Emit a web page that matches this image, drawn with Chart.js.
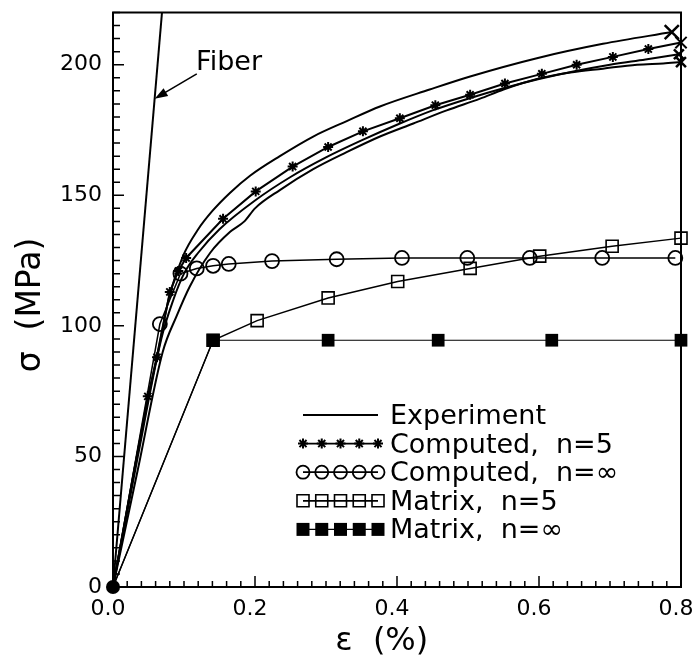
<!DOCTYPE html>
<html>
<head>
<meta charset="utf-8">
<script src="https://cdn.jsdelivr.net/npm/chart.js@4.4.1/dist/chart.umd.min.js"></script>
<style>
	html, body { margin: 0; background: #fff; }
</style>
</head>
<body>
<canvas id="chart" width="695" height="665"></canvas>
<script>
const X_TICKS = [0, 0.2, 0.4, 0.6, 0.8]
const Y_TICKS = [0, 50, 100, 150, 200]
const X_MAX = 0.8
const Y_MAX = 220
const X_MINOR = 0.02
const Y_MINOR = 5

const fiber_x = [0, 0.069]
const fiber_y = [0, 220]

// three experimental specimens
const exp_a_x = [0, 0.03, 0.063, 0.08, 0.099, 0.12, 0.14, 0.165, 0.193, 0.235, 0.282, 0.33, 0.376, 0.446, 0.503, 0.597, 0.69, 0.787]
const exp_a_y = [0, 45, 90, 112, 127, 137, 144, 151, 157.5, 165, 172.5, 178.5, 184, 190.5, 195.5, 202.5, 208, 212.5]
const exp_b_x = [0, 0.035, 0.068, 0.085, 0.1, 0.12, 0.15, 0.2, 0.25, 0.3, 0.35, 0.4, 0.45, 0.5, 0.55, 0.6, 0.65, 0.7, 0.75, 0.797]
const exp_b_y = [0, 50, 95, 110, 120, 128, 137, 148, 157, 164.5, 171, 177, 182.5, 187, 191, 194.5, 197.5, 200, 202, 204]
const exp_c_x = [0, 0.035, 0.07, 0.09, 0.108, 0.137, 0.165, 0.185, 0.2, 0.235, 0.282, 0.329, 0.376, 0.423, 0.47, 0.517, 0.55, 0.597, 0.644, 0.69, 0.738, 0.775, 0.8]
const exp_c_y = [0, 45, 90, 104, 115, 128, 136, 140, 145, 152, 160, 166.5, 172.5, 177.5, 182.5, 187, 190.5, 194.5, 197, 198.5, 200, 200.5, 201]

const comp5_x = [0, 0.049, 0.062, 0.08, 0.092, 0.103, 0.155, 0.201, 0.253, 0.303, 0.352, 0.404, 0.454, 0.503, 0.552, 0.604, 0.653, 0.704, 0.754, 0.8]
const comp5_y = [0, 73, 88, 113, 121, 126, 141, 151.5, 161, 168.5, 174.5, 179.5, 184.5, 188.5, 192.8, 196.5, 200, 203, 206, 208.5]

const comp_inf_x = [0, 0.066, 0.095, 0.118, 0.141, 0.163, 0.224, 0.315, 0.407, 0.499, 0.587, 0.689, 0.792]
const comp_inf_y = [0, 100.7, 120, 122, 123, 123.7, 124.8, 125.5, 126, 126, 126, 126, 126]

const mat5_x = [0, 0.141, 0.203, 0.303, 0.401, 0.503, 0.601, 0.703, 0.8]
const mat5_y = [0, 94.5, 102, 110.7, 117, 122, 126.7, 130.5, 133.6]

const mat_inf_x = [0, 0.141, 0.303, 0.458, 0.618, 0.8]
const mat_inf_y = [0, 94.5, 94.5, 94.5, 94.5, 94.5]

const LEGEND = [
	{ text: 'Experiment', marker: null },
	{ text: 'Computed,  n=5', marker: 'star' },
	{ text: 'Computed,  n=\u221e', marker: 'circle' },
	{ text: 'Matrix,  n=5', marker: 'rect' },
	{ text: 'Matrix,  n=\u221e', marker: 'rect_filled' },
]

const FONT = "'DejaVu Sans', sans-serif"

function points (xs, ys) {
	return xs.map((x, i) => ({ x, y: ys[i] }))
}

function end_cross (n, size) {
	return {
		pointStyle: c => c.dataIndex === n - 1 ? 'crossRot' : false,
		pointRadius: c => c.dataIndex === n - 1 ? size : 0,
		pointBorderWidth: 2.5,
	}
}

function experiment (xs, ys, size) {
	return Object.assign({
		data: points(xs, ys),
		borderColor: '#000',
		borderWidth: 2,
		cubicInterpolationMode: 'monotone',
		pointBorderColor: '#000',
	}, end_cross(xs.length, size))
}

function draw_marker (ctx, kind, x, y) {
	ctx.beginPath()
	if (kind === 'star') {
		const r = 5
		for (let k = 0; k < 4; k++) {
			const a = k * Math.PI / 4
			ctx.moveTo(x - r * Math.cos(a), y - r * Math.sin(a))
			ctx.lineTo(x + r * Math.cos(a), y + r * Math.sin(a))
		}
		ctx.lineWidth = 2
		ctx.stroke()
	} else if (kind === 'circle') {
		ctx.arc(x, y, 6.5, 0, Math.PI * 2)
		ctx.lineWidth = 1.8
		ctx.stroke()
	} else if (kind === 'rect') {
		ctx.rect(x - 6, y - 6, 12, 12)
		ctx.lineWidth = 1.6
		ctx.stroke()
	} else if (kind === 'rect_filled') {
		ctx.rect(x - 6.5, y - 6.5, 13, 13)
		ctx.fill()
	}
}

const frame_plugin = {
	id: 'frame',
	afterDatasetsDraw (chart) {
		const { ctx, chartArea: a, scales: { x, y } } = chart
		ctx.save()
		ctx.strokeStyle = '#000'
		ctx.fillStyle = '#000'
		ctx.lineWidth = 2
		ctx.strokeRect(a.left, a.top, a.right - a.left, a.bottom - a.top)

		// inward ticks on left and bottom
		ctx.lineWidth = 1.5
		ctx.beginPath()
		const nx = Math.round(X_MAX / X_MINOR)
		for (let i = 0; i <= nx; i++) {
			const px = x.getPixelForValue(i * X_MINOR)
			const len = i % 10 === 0 ? 11 : 6
			ctx.moveTo(px, a.bottom)
			ctx.lineTo(px, a.bottom - len)
		}
		const ny = Math.round(Y_MAX / Y_MINOR)
		for (let i = 0; i <= ny; i++) {
			const py = y.getPixelForValue(i * Y_MINOR)
			const len = i % 10 === 0 ? 11 : 7
			ctx.moveTo(a.left, py)
			ctx.lineTo(a.left + len, py)
		}
		ctx.stroke()

		// Fiber label with arrow
		ctx.font = '27px ' + FONT
		ctx.textBaseline = 'alphabetic'
		ctx.textAlign = 'left'
		ctx.fillText('Fiber', x.getPixelForValue(0.117), y.getPixelForValue(198))
		const tip_y = 187
		const tip_x = fiber_x[1] * tip_y / fiber_y[1]
		const x1 = x.getPixelForValue(0.118), y1 = y.getPixelForValue(196.5)
		const x2 = x.getPixelForValue(tip_x), y2 = y.getPixelForValue(tip_y)
		const ang = Math.atan2(y2 - y1, x2 - x1)
		ctx.lineWidth = 1.6
		ctx.beginPath()
		ctx.moveTo(x1, y1)
		ctx.lineTo(x2 - 8 * Math.cos(ang), y2 - 8 * Math.sin(ang))
		ctx.stroke()
		ctx.beginPath()
		ctx.moveTo(x2, y2)
		ctx.lineTo(x2 - 13 * Math.cos(ang) + 4.5 * Math.sin(ang), y2 - 13 * Math.sin(ang) - 4.5 * Math.cos(ang))
		ctx.lineTo(x2 - 13 * Math.cos(ang) - 4.5 * Math.sin(ang), y2 - 13 * Math.sin(ang) + 4.5 * Math.cos(ang))
		ctx.closePath()
		ctx.fill()

		// legend
		const row0 = 417, row_step = 28.6
		const sample_left = 303, sample_right = 378
		ctx.font = '27px ' + FONT
		ctx.textBaseline = 'middle'
		LEGEND.forEach(function (item, i) {
			const ty = row0 + i * row_step
			const my = ty - 2
			ctx.lineWidth = item.marker === 'rect_filled' ? 1.2 : 1.8
			ctx.beginPath()
			ctx.moveTo(sample_left, my)
			ctx.lineTo(sample_right, my)
			ctx.stroke()
			if (item.marker) {
				for (let k = 0; k < 5; k++) {
					draw_marker(ctx, item.marker, sample_left + k * (sample_right - sample_left) / 4, my)
				}
			}
			ctx.fillText(item.text, 390, ty)
		})
		ctx.restore()
	},
}

Chart.defaults.font.family = FONT
Chart.defaults.color = '#000'

new Chart(document.getElementById('chart'), {
	type: 'scatter',
	data: {
		datasets: [
			{
				data: points(fiber_x, fiber_y),
				borderColor: '#000',
				borderWidth: 2,
				pointRadius: 0,
			},
			experiment(exp_a_x, exp_a_y, 10),
			experiment(exp_b_x, exp_b_y, 7),
			experiment(exp_c_x, exp_c_y, 7),
			{
				data: points(comp5_x, comp5_y),
				borderColor: '#000',
				borderWidth: 2,
				pointBorderColor: '#000',
				pointStyle: c => c.dataIndex === comp5_x.length - 1 ? 'crossRot' : 'star',
				pointRadius: c => c.dataIndex === 0 ? 0 : (c.dataIndex === comp5_x.length - 1 ? 8 : 5),
				pointBorderWidth: 2,
			},
			{
				data: points(comp_inf_x, comp_inf_y),
				borderColor: '#000',
				borderWidth: 1.5,
				pointStyle: 'circle',
				pointRadius: c => c.dataIndex === 0 ? 0 : 7,
				pointBorderColor: '#000',
				pointBackgroundColor: 'rgba(0,0,0,0)',
				pointBorderWidth: 1.8,
			},
			{
				data: points(mat5_x, mat5_y),
				borderColor: '#000',
				borderWidth: 1.5,
				pointStyle: 'rect',
				pointRadius: c => c.dataIndex === 0 ? 0 : 8.5,
				pointBorderColor: '#000',
				pointBackgroundColor: 'rgba(0,0,0,0)',
				pointBorderWidth: 1.6,
			},
			{
				data: points(mat_inf_x, mat_inf_y),
				borderColor: '#000',
				borderWidth: 1.2,
				pointStyle: c => c.dataIndex === 0 ? 'circle' : 'rect',
				pointRadius: c => c.dataIndex === 0 ? 7 : 9,
				pointBorderColor: '#000',
				pointBackgroundColor: '#000',
				pointBorderWidth: 0,
			},
		].map(d => Object.assign({ showLine: true, clip: false }, d)),
	},
	options: {
		responsive: false,
		animation: false,
		events: [],
		layout: { padding: { top: 10, right: 14, left: 0, bottom: 0 } },
		plugins: {
			legend: { display: false },
			tooltip: { enabled: false },
		},
		scales: {
			x: {
				type: 'linear',
				min: 0,
				max: X_MAX,
				grid: { display: false, drawTicks: false },
				border: { display: false },
				afterBuildTicks: s => { s.ticks = X_TICKS.map(v => ({ value: v })) },
				afterFit: s => { s.height = 78; s.paddingLeft = 0; s.paddingRight = 0 },
				ticks: {
					font: { size: 22 },
					padding: 9,
					labelOffset: -5,
					maxRotation: 0,
					callback: v => v.toFixed(1),
				},
				title: {
					display: true,
					text: '\u03b5  (%)   ',
					font: { size: 32 },
					padding: { top: 0, bottom: 4 },
				},
			},
			y: {
				type: 'linear',
				min: 0,
				max: Y_MAX,
				grid: { display: false, drawTicks: false },
				border: { display: false },
				afterBuildTicks: s => { s.ticks = Y_TICKS.map(v => ({ value: v })) },
				afterFit: s => { s.width = 113; s.paddingTop = 0; s.paddingBottom = 0 },
				ticks: {
					font: { size: 22 },
					padding: 11,
					callback: v => String(v),
				},
				title: {
					display: true,
					text: '\u03c3  (MPa) ',
					font: { size: 33 },
					padding: { top: 12, bottom: 0 },
				},
			},
		},
	},
	plugins: [frame_plugin],
})
</script>
</body>
</html>
